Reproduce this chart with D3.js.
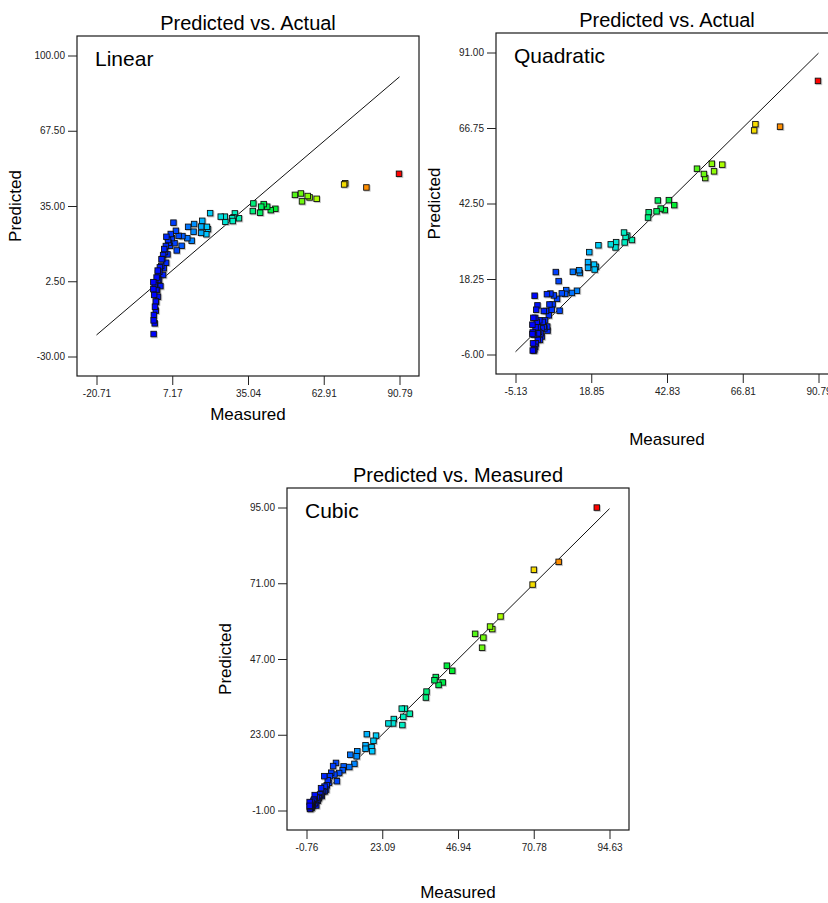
<!DOCTYPE html>
<html lang="en">
<head>
<meta charset="UTF-8">
<title>Predicted vs. Actual</title>
<script src="https://cdn.jsdelivr.net/npm/d3@7"></script>
<style>
  body { margin: 0; background: #fff; }
  svg text { font-family: Arial, "Liberation Sans", sans-serif; }
</style>
</head>
<body>
<script>
// measured response and the prediction of each model, one entry per run
var measured = [90.7, 78.7, 70.9, 70.5, 60.4, 57.8, 57.1, 55.0, 54.6, 52.4,
  45.2, 43.5, 42.2, 40.9, 40.0, 39.6, 37.1, 36.9,
  31.8, 30.3, 29.8, 29.3, 29.5, 26.8, 26.6, 25.1,
  21.2, 20.4, 19.8, 20.0, 18.3, 17.9, 17.9,
  15.3, 15.1, 14.4, 13.1, 12.8, 11.0, 10.7,
  9.6, 8.9, 8.6, 8.1, 7.7, 7.1, 6.7, 6.4, 6.0, 5.7,
  5.5, 5.1, 5.0, 4.9, 4.6, 4.3, 4.1, 3.9, 3.9, 3.6,
  3.3, 3.2, 2.9, 2.7, 2.5, 2.4, 2.0, 2.0, 2.0, 1.9,
  1.7, 1.5, 1.4, 1.3, 1.2, 1.2, 1.0, 0.9, 0.8, 0.8,
  0.6, 0.5, 0.4, 0.4, 0.3, 0.3];

var predLinear = [48.8, 42.9, 44.7, 44.2, 38.0, 38.6, 39.2, 36.9, 40.3, 39.7,
  33.7, 33.1, 34.6, 35.7, 34.6, 32.0, 36.0, 32.7,
  29.6, 31.7, 30.0, 29.6, 28.4, 28.1, 30.3, 30.3,
  31.8, 24.9, 22.7, 25.9, 28.5, 23.3, 26.0,
  27.1, 23.8, 19.9, 25.9, 21.0, 21.9, 17.7,
  22.0, 15.7, 24.2, 18.8, 27.7, 21.0, 22.8, 17.7, 19.0, 20.2,
  14.0, 21.6, 10.4, 17.6, 15.0, 16.3, 8.0, 13.7, 5.1, 12.0,
  11.9, 9.0, 0.3, 8.4, 6.5, 3.0, 5.8, 2.9, -4.3, 7.0,
  -1.4, 4.0, -1.4, -6.4, -10.3, -6.4, 1.5, -8.6, 0.8, -15.8,
  -3.5, -12.2, -20.4, -14.5, 2.0, -1.0];

var predQuadratic = [81.8, 67.1, 67.9, 65.9, 54.9, 52.75, 55.2, 50.6, 51.9, 53.6,
  41.9, 43.5, 40.3, 40.8, 43.4, 39.9, 39.6, 37.9,
  30.7, 32.1, 31.6, 33.1, 29.9, 30.0, 28.3, 29.3,
  29.0, 22.1, 22.8, 21.2, 26.8, 23.6, 21.8,
  20.1, 21.0, 14.4, 20.5, 13.7, 14.6, 13.4,
  13.55, 8.0, 17.5, 11.8, 20.4, 12.9, 10.0, 8.3, 13.5, 10.0,
  6.5, 1.6, 2.9, 13.3, 7.9, 4.9, 2.3, 7.9, 2.9, 4.4,
  -0.3, 2.3, 0.7, -1.4, 4.9, 1.2, 0.7, -1.4, 2.65, 9.7,
  4.4, 8.3, -2.5, 2.65, -3.6, 5.7, 12.8, -4.4, -4.8, 0.3,
  5.7, -2.5, -4.8, 1.0, 3.5, 0.5];

var predCubic = [94.9, 77.7, 75.2, 70.5, 60.4, 56.4, 57.2, 53.7, 50.5, 54.9,
  43.2, 44.8, 39.5, 38.7, 41.2, 40.2, 36.6, 34.7,
  29.6, 31.2, 28.6, 31.2, 26.0, 27.9, 26.5, 26.5,
  22.65, 21.0, 19.0, 17.7, 23.1, 19.6, 18.5,
  17.7, 16.1, 13.7, 16.6, 12.7, 12.9, 11.7,
  10.8, 8.2, 14.0, 10.3, 13.0, 10.9, 9.8, 7.7, 8.5, 6.9,
  5.55, 5.0, 6.5, 9.8, 5.0, 4.8, 3.5, 6.0, 4.0, 4.0,
  3.2, 2.8, 2.0, 2.4, 3.0, 0.5, 1.9, 1.5, 1.2, 3.8,
  2.4, 2.0, 0.9, 1.0, 0.3, 0.6, 1.4, -0.2, -0.25, 0.2,
  0.8, -0.5, -0.6, 0.0, 1.6, 0.4];

var modelNames = ["Linear", "Quadratic", "Cubic"];
var titles = ["Predicted vs. Actual", "Predicted vs. Actual", "Predicted vs. Measured"];
var xTicksLinear = [-20.71, 7.17, 35.04, 62.91, 90.79];
var yTicksLinear = [-30.00, 2.50, 35.00, 67.50, 100.00];
var xTicksQuadratic = [-5.13, 18.85, 42.83, 66.81, 90.79];
var yTicksQuadratic = [-6.00, 18.25, 42.50, 66.75, 91.00];
var xTicksCubic = [-0.76, 23.09, 46.94, 70.78, 94.63];
var yTicksCubic = [-1.00, 23.00, 47.00, 71.00, 95.00];

var width = 828, height = 903;
var svg = d3.select('body').append('svg')
    .attr('width', width)
    .attr('height', height);

// colour of a point follows its measured value (blue -> red)
var color = d3.scaleLinear()
    .domain([0, 10, 20, 30, 45, 60, 72, 80, 91])
    .range(["#0000ff", "#0050ff", "#00c8ff", "#00f0c0", "#00ee30", "#a8ff00", "#ffd800", "#ff8000", "#ff0000"]);

// plain hyphen for negatives, like the original
var fmt = function (v) { return v.toFixed(2); };

var panels = [
  {left: 77, top: 36, w: 342, h: 340, pred: predLinear, xt: xTicksLinear, yt: yTicksLinear, xlab: 420},
  {left: 496, top: 33, w: 342, h: 341, pred: predQuadratic, xt: xTicksQuadratic, yt: yTicksQuadratic, xlab: 445},
  {left: 287, top: 488, w: 342, h: 342, pred: predCubic, xt: xTicksCubic, yt: yTicksCubic, xlab: 898}
];
var pad = 19.5;

panels.forEach(function (p, k) {
  var g = svg.append('g').attr('transform', 'translate(' + p.left + ',' + p.top + ')');

  var x = d3.scaleLinear().domain([p.xt[0], p.xt[4]]).range([pad, p.w - pad]);
  var y = d3.scaleLinear().domain([p.yt[0], p.yt[4]]).range([p.h - pad, pad]);

  // frame
  g.append('rect')
      .attr('width', p.w).attr('height', p.h)
      .attr('fill', '#fff')
      .attr('stroke', '#1a1a1a')
      .attr('stroke-width', 1.2);

  var yAxis = g.append('g')
      .call(d3.axisLeft(y).tickValues(p.yt).tickFormat(fmt).tickSize(9).tickPadding(3));
  var xAxis = g.append('g')
      .attr('transform', 'translate(0,' + p.h + ')')
      .call(d3.axisBottom(x).tickValues(p.xt).tickFormat(fmt).tickSize(9).tickPadding(5));
  [xAxis, yAxis].forEach(function (a) {
    a.select('.domain').remove();
    a.selectAll('line').attr('stroke', '#222');
    a.selectAll('text').attr('font-size', 10).attr('fill', '#222')
        .attr('font-family', 'Arial, "Liberation Sans", sans-serif');
  });

  // 1:1 line
  g.append('line')
      .attr('x1', x(p.xt[0])).attr('y1', y(p.xt[0]))
      .attr('x2', x(p.xt[4])).attr('y2', y(p.xt[4]))
      .attr('stroke', '#111').attr('stroke-width', 1);

  var pts = measured.map(function (m, i) { return {m: m, p: p.pred[i]}; });

  // soft shadow under each marker
  g.selectAll('rect.shadow').data(pts).enter().append('rect')
      .attr('class', 'shadow')
      .attr('x', function (d) { return x(d.m) - 2.5; })
      .attr('y', function (d) { return y(d.p) - 2.5; })
      .attr('width', 6.5).attr('height', 6.5)
      .attr('fill', '#999').attr('opacity', 0.55);

  g.selectAll('rect.pt').data(pts).enter().append('rect')
      .attr('class', 'pt')
      .attr('x', function (d) { return x(d.m) - 3; })
      .attr('y', function (d) { return y(d.p) - 3; })
      .attr('width', 5.5).attr('height', 5.5)
      .attr('fill', function (d) { return color(d.m); })
      .attr('stroke', '#111').attr('stroke-width', 0.9);

  g.append('text')
      .attr('x', 18).attr('y', 30)
      .attr('font-size', 21).attr('fill', '#000')
      .text(modelNames[k]);

  svg.append('text')
      .attr('x', p.left + p.w / 2).attr('y', p.top - 6)
      .attr('text-anchor', 'middle')
      .attr('font-size', 20).attr('fill', '#000')
      .text(titles[k]);

  svg.append('text')
      .attr('transform', 'translate(' + (p.left - 62) + ',' + (p.top + p.h / 2) + ') rotate(-90)')
      .attr('text-anchor', 'middle').attr('dominant-baseline', 'central')
      .attr('font-size', 17).attr('fill', '#000')
      .text('Predicted');

  svg.append('text')
      .attr('x', p.left + p.w / 2).attr('y', p.xlab)
      .attr('text-anchor', 'middle')
      .attr('font-size', 17).attr('fill', '#000')
      .text('Measured');
});
</script>
</body>
</html>
